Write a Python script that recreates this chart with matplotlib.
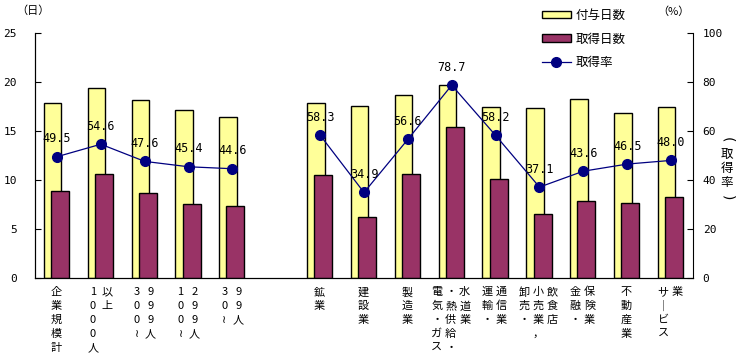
import numpy as np
import matplotlib
matplotlib.use('Agg')
import matplotlib.pyplot as plt
from matplotlib.patches import Patch
from matplotlib.lines import Line2D

plt.rcParams['font.family'] = ['Noto Sans CJK JP', 'DejaVu Sans']

# カテゴリ（縦書きラベルの列ごと）
categories = [['企業規模計'], ['1000人', '以上'], ['300≀', '999人'], ['100≀', '299人'],
              ['30≀', '99人'], [],
              ['鉱業'], ['建設業'], ['製造業'], ['電気・ガス', '・熱供給・', '水道業'],
              ['運輸・', '通信業'], ['卸売・', '小売業，', '飲食店'], ['金融・', '保険業'],
              ['不動産業'], ['サ｜ビス', '業']]
fuyo = [17.9, 19.4, 18.2, 17.1, 16.4, np.nan, 17.9, 17.6, 18.7, 19.7, 17.4, 17.3, 18.3, 16.8, 17.5]
shutoku = [8.9, 10.6, 8.7, 7.6, 7.3, np.nan, 10.5, 6.2, 10.6, 15.4, 10.1, 6.5, 7.9, 7.7, 8.3]
rate = [49.5, 54.6, 47.6, 45.4, 44.6, np.nan, 58.3, 34.9, 56.6, 78.7, 58.2, 37.1, 43.6, 46.5, 48.0]

W, H = 738, 361
fig = plt.figure(figsize=(W / 100, H / 100), dpi=100)
ax = fig.add_axes([35 / W, 1 - 278 / H, 658 / W, 245 / H])
x = np.arange(len(categories))

ax.bar(x - 0.1, fuyo, width=0.4, color='#FFFF99', edgecolor='black', linewidth=1, zorder=2)
ax.bar(x + 0.07, shutoku, width=0.41, color='#993366', edgecolor='black', linewidth=1, zorder=3)
ax.set_xlim(-0.5, len(categories) - 0.5)
ax.set_ylim(0, 25)
ax.set_yticks([0, 5, 10, 15, 20, 25])
ax.set_xticks([])
ax.spines['top'].set_visible(False)
ax.spines['right'].set_visible(False)
mono = 'DejaVu Sans Mono'
ax.tick_params(axis='y', direction='in', length=4, pad=13, labelsize=8)
for t in ax.get_yticklabels():
    t.set_family(mono)

ax2 = ax.twinx()
ax2.plot(x, rate, color='#000080', linewidth=0.9, marker='o', markersize=7,
         markerfacecolor='#000080', markeredgecolor='#000080', zorder=4)
ax2.set_ylim(0, 100)
ax2.set_yticks([0, 20, 40, 60, 80, 100])
ax2.spines['top'].set_visible(False)
ax2.tick_params(axis='y', direction='in', length=4, pad=7, labelsize=8)
for t in ax2.get_yticklabels():
    t.set_family(mono)
for xi, r in zip(x, rate):
    if not np.isnan(r):
        ax2.annotate(f'{r:.1f}', (xi, r), xytext=(0, 13), textcoords='offset points',
                     ha='center', va='center', fontsize=8.5, family=mono, zorder=5)

# 縦書きラベル
tr = ax.get_xaxis_transform()
px = 0.72
for i, cols in enumerate(categories):
    n = len(cols)
    for j, col in enumerate(cols):
        dx = ((j - (n - 1) / 2) * 14 - 1) * px
        for k, ch in enumerate(col):
            ax.annotate(ch, (i, 0), xycoords=tr, xytext=(dx, -(9 + k * 14) * px),
                        textcoords='offset points', ha='center', va='top', fontsize=8)

fig.text(33 / W, 1 - 11 / H, '（日）', ha='center', va='center', fontsize=8)
fig.text(673 / W, 1 - 12 / H, '（%）', ha='center', va='center', fontsize=8)

# 右軸ラベル（縦書き）
for k, ch in enumerate('(取得率)'):
    if ch in '()':
        fig.text(727 / W, 1 - (140 + k * 14.3) / H, ch, ha='center', va='center',
                 fontsize=10, rotation=-90, family='DejaVu Sans')
    else:
        fig.text(727 / W, 1 - (140 + k * 14.3) / H, ch, ha='center', va='center',
                 fontsize=9)

handles = [Patch(facecolor='#FFFF99', edgecolor='black'),
           Patch(facecolor='#993366', edgecolor='black'),
           Line2D([], [], color='#000080', marker='o', markersize=7, linewidth=0.9)]
fig.legend(handles, ['付与日数', '取得日数', '取得率'], loc='upper left',
           bbox_to_anchor=(542 / W, 1 - 9 / H), frameon=False, fontsize=9,
           handlelength=2.3, handleheight=0.55, handletextpad=0.4,
           labelspacing=0.85, borderpad=0, borderaxespad=0)

fig.savefig('out.png', dpi=100)
